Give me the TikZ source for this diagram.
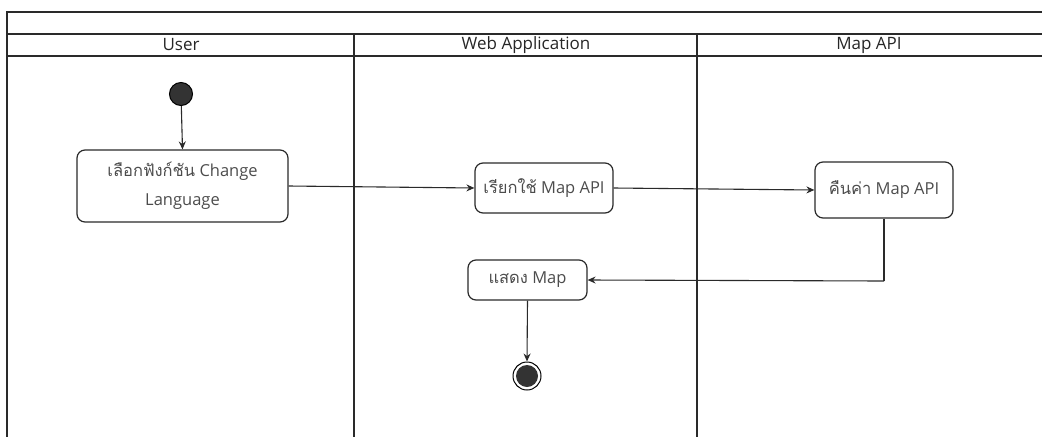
\documentclass[tikz,border=0pt]{standalone}
\usepackage{fontspec}
\setmainfont{Open Sans}
\newfontfamily\thaifont[Script=Thai]{Loma}
\usetikzlibrary{arrows.meta}
\definecolor{lineC}{HTML}{2A2A2A}
\definecolor{fillC}{HTML}{333333}
\begin{document}
\begin{tikzpicture}[x=1pt,y=-1pt,
  frame/.style={draw=lineC,line width=1.3pt},
  act/.style={draw=lineC,line width=1.2pt,rounded corners=8pt,align=center,
    font=\fontsize{16.5}{29}\selectfont,text=black!70,inner sep=0pt},
  lanelabel/.style={font=\fontsize{17}{20}\selectfont,text=black!85},
  flow/.style={draw=lineC,line width=1.1pt,-{Stealth[length=8pt,width=7pt]}},
  startnode/.style={circle,draw=black,fill=fillC,line width=1pt,minimum size=23pt,inner sep=0pt},
  endouter/.style={circle,draw=black,fill=white,line width=1pt,minimum size=28pt,inner sep=0pt},
  endinner/.style={circle,fill=fillC,minimum size=22pt,inner sep=0pt}]
\useasboundingbox (0,0) rectangle (1042,437);
% swimlane frame
\draw[frame] (1042,12) -- (7,12) -- (7,437);
\draw[frame] (7,34) -- (1042,34);
\draw[frame] (7,56) -- (1042,56);
\draw[frame] (354,34) -- (354,437);
\draw[frame] (697,34) -- (697,437);
\node[lanelabel] (lUser) at (181,45) {User};
\node[lanelabel] (lWeb) at (526,45) {Web Application};
\node[lanelabel] (lMap) at (869,45) {Map API};
% nodes
\node[startnode] (start) at (181,94) {};
\node[act,minimum width=211pt,minimum height=72pt] (choose) at (182.5,186)
  {{\thaifont เลือกฟังก์ชัน} Change\\Language};
\node[act,minimum width=138pt,minimum height=50pt] (call) at (544,188)
  {{\thaifont เรียกใช้} Map API};
\node[act,minimum width=138pt,minimum height=56pt] (ret) at (884,190)
  {{\thaifont คืนค่า} Map API};
\node[act,minimum width=119pt,minimum height=40pt] (show) at (527.5,280)
  {{\thaifont แสดง} Map};
\node[endouter] (stop) at (527,376) {};
\node[endinner] (stopin) at (stop) {};
\coordinate (bend) at (884,281);
% connectors
\draw[flow] (start) -- (choose.north);
\draw[flow] (choose.east) -- (call.west);
\draw[flow] (call.east) -- (ret.west);
\draw[draw=lineC,line width=1.1pt] (ret.south) -- (bend);
\draw[flow] (bend) -- (show.east);
\draw[flow] (show.south) -- (stop.north);
\end{tikzpicture}
\end{document}
